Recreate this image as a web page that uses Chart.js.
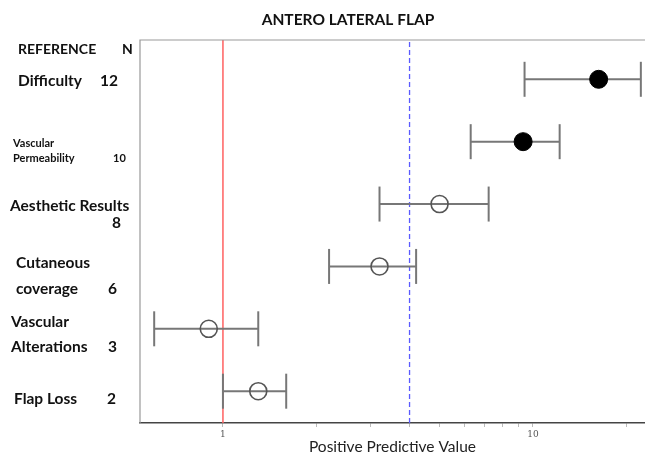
<!DOCTYPE html>
<html>
<head>
<meta charset="utf-8">
<script src="https://cdn.jsdelivr.net/npm/chart.js@4.4.1/dist/chart.umd.min.js"></script>
<style>
  html, body { margin: 0; padding: 0; background: #fff; }
  #wrap { width: 645px; height: 459px; position: relative; }
</style>
</head>
<body>
<div id="wrap"><canvas id="myChart"></canvas></div>
<script>
// data
const chartTitle = 'ANTERO LATERAL FLAP';
const headerLabels = ['REFERENCE', 'N'];
const categories = [['Difficulty'], ['Vascular', 'Permeability'], ['Aesthetic Results'], ['Cutaneous', 'coverage'], ['Vascular', 'Alterations'], ['Flap Loss']];
const nValues = [12, 10, 8, 6, 3, 2];
const ppv = [16.3, 9.3, 5.0, 3.2, 0.9, 1.3];
const ciLow = [9.4, 6.3, 3.2, 2.2, 0.6, 1.0];
const ciHigh = [22.3, 12.2, 7.2, 4.2, 1.3, 1.6];
const significant = [true, true, false, false, false, false];
const refValue = 1;
const thresholdValue = 4;
const xTicks = [1, 2, 3, 4, 5, 6, 7, 8, 9, 10, 20];
const xTickLabels = { 1: '1', 10: '10' };
const xTitle = 'Positive Predictive Value';

const yMin = 0.49, yMax = 6.63;
const rowY = i => categories.length - i;

// label placement on the left (style only)
const labelLayout = [
  { x: 18, y: [81], nx: 100, ny: 81, size: 15.5 },
  { x: 13, y: [143, 158], nx: 113, ny: 158, size: 11 },
  { x: 10, y: [206], nx: 112, ny: 223, size: 15.5 },
  { x: 16, y: [263, 289], nx: 108, ny: 289, size: 15.5 },
  { x: 11, y: [322, 347], nx: 108, ny: 347, size: 15.5 },
  { x: 14, y: [399], nx: 107, ny: 399, size: 15.5 }
];

const sidePlugin = {
  id: 'sideLabels',
  afterDraw(chart) {
    const ctx = chart.ctx;
    const a = chart.chartArea;
    ctx.save();
    // plot frame
    ctx.strokeStyle = '#999';
    ctx.lineWidth = 1.2;
    ctx.beginPath();
    ctx.moveTo(a.left, a.bottom);
    ctx.lineTo(a.left, a.top);
    ctx.lineTo(a.right, a.top);
    ctx.stroke();

    ctx.fillStyle = '#111';
    ctx.textBaseline = 'middle';
    ctx.font = 'bold 15.5px Lato';
    ctx.textAlign = 'center';
    ctx.fillText(chartTitle, 348, 20);

    ctx.font = 'bold 14px Lato';
    ctx.textAlign = 'left';
    ctx.fillText(headerLabels[0], 18, 49);
    ctx.fillText(headerLabels[1], 122, 49);

    categories.forEach((lines, i) => {
      const l = labelLayout[i];
      ctx.font = 'bold ' + l.size + 'px Lato';
      lines.forEach((t, j) => ctx.fillText(t, l.x, l.y[j]));
      ctx.fillText(String(nValues[i]), l.nx, l.ny);
    });
    ctx.restore();
  }
};

const pointSets = [
  {
    type: 'scatter',
    data: ppv.map((v, i) => significant[i] ? { x: v, y: rowY(i) } : null).filter(p => p),
    pointRadius: 9,
    pointBackgroundColor: '#000',
    pointBorderColor: '#000',
    pointBorderWidth: 1
  },
  {
    type: 'scatter',
    data: ppv.map((v, i) => !significant[i] ? { x: v, y: rowY(i) } : null).filter(p => p),
    pointRadius: 8.5,
    pointBackgroundColor: 'rgba(0,0,0,0)',
    pointBorderColor: '#555',
    pointBorderWidth: 1.6
  }
];

const barSets = ppv.map((v, i) => ({
  type: 'line',
  data: [{ x: ciLow[i], y: rowY(i) }, { x: ciHigh[i], y: rowY(i) }],
  borderColor: '#777',
  borderWidth: 2,
  pointStyle: 'line',
  rotation: 90,
  pointRadius: 17.5,
  pointBorderColor: '#777',
  pointBorderWidth: 2
}));

const lineSets = [
  {
    type: 'line',
    data: [{ x: refValue, y: yMin }, { x: refValue, y: yMax }],
    borderColor: '#ff6060',
    borderWidth: 1.5,
    pointRadius: 0
  },
  {
    type: 'line',
    data: [{ x: thresholdValue, y: yMin }, { x: thresholdValue, y: yMax }],
    borderColor: '#5a5aff',
    borderWidth: 1.3,
    borderDash: [5, 3],
    pointRadius: 0
  }
];

var ctx = document.getElementById('myChart');
var chart = new Chart(ctx, {
  type: 'scatter',
  data: { datasets: [...pointSets, ...barSets, ...lineSets] },
  options: {
    responsive: true,
    maintainAspectRatio: false,
    animation: false,
    layout: { autoPadding: false, padding: { left: 140, top: 40, right: 0, bottom: 0 } },
    plugins: { legend: { display: false }, tooltip: { enabled: false } },
    scales: {
      x: {
        type: 'logarithmic',
        min: 0.54,
        max: 23,
        afterBuildTicks: s => { s.ticks = xTicks.map(v => ({ value: v })); },
        afterFit: s => { s.height = 36; },
        ticks: {
          autoSkip: false,
          maxRotation: 0,
          padding: 2,
          color: '#555',
          font: { size: 9, family: 'DejaVu Serif' },
          callback: v => xTickLabels[v] || ''
        },
        grid: { drawOnChartArea: false, drawTicks: true, tickLength: 4, color: '#bbb' },
        border: { color: '#444', width: 1.5 },
        title: {
          display: true,
          text: xTitle,
          color: '#222',
          font: { size: 15.5, family: 'Lato' },
          padding: { top: 0, bottom: 3 }
        }
      },
      y: {
        type: 'linear',
        min: yMin,
        max: yMax,
        display: false
      }
    }
  },
  plugins: [sidePlugin]
});
</script>
</body>
</html>
